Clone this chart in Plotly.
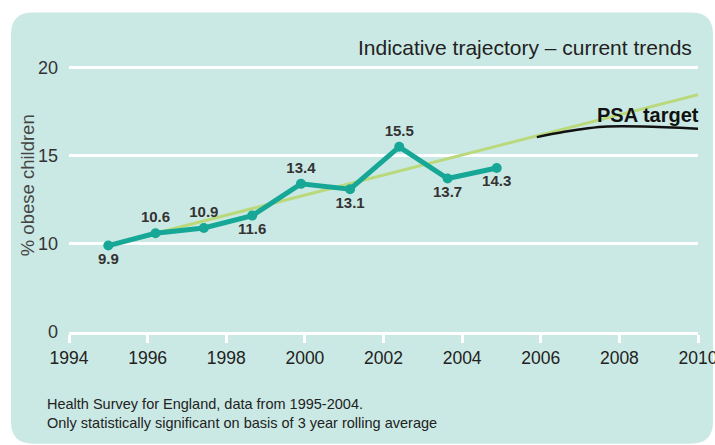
import plotly.graph_objects as go

# Survey years (plotted positions) and obesity rates
survey_x = [1995.0, 1996.2, 1997.43, 1998.66, 1999.9, 2001.15, 2002.4, 2003.63, 2004.88]
obese_pct = [9.9, 10.6, 10.9, 11.6, 13.4, 13.1, 15.5, 13.7, 14.3]
label_pos = ["bottom center", "top center", "top center", "bottom center", "top center",
             "bottom center", "top center", "bottom center", "bottom center"]

# Indicative trajectory on current trends
trend_x = [1996.2, 2010.0]
trend_y = [10.6, 18.45]

# PSA target path
psa_x = [2005.9, 2006.6, 2007.2, 2007.7, 2008.6, 2010.0]
psa_y = [16.05, 16.35, 16.55, 16.65, 16.65, 16.53]

# Axis ticks (bottom gridline is labelled 0)
y_tickvals = [5, 10, 15, 20]
y_ticktext = ["0", "10", "15", "20"]
x_tickvals = list(range(1994, 2011, 2))

W, H = 715, 445
ML, MR, MB = 69, 17, 113
Y0, Y1 = 5, 21.5
px_per_unit = (332 - 67) / 15
plot_h = (Y1 - Y0) * px_per_unit
MT = H - MB - plot_h
plot_w = W - ML - MR


def px(xp, yp):
    return (xp - ML) / plot_w, (H - MB - yp) / plot_h


BG = "#cbe9e4"
TEAL = "#17a797"
GREEN = "#b9d97c"
FONT = "Liberation Sans, Arial, sans-serif"

fig = go.Figure()

fig.add_trace(go.Scatter(
    x=trend_x, y=trend_y, mode="lines",
    line=dict(color=GREEN, width=3), hoverinfo="skip"))

fig.add_trace(go.Scatter(
    x=psa_x, y=psa_y, mode="lines",
    line=dict(color="#111111", width=2.5, shape="spline"), hoverinfo="skip"))

fig.add_trace(go.Scatter(
    x=survey_x, y=obese_pct, mode="lines+markers+text",
    line=dict(color=TEAL, width=5),
    marker=dict(color=TEAL, size=10),
    text=[f"{v:.1f}" for v in obese_pct],
    textposition=label_pos,
    textfont=dict(family=FONT, size=15, color="#333333", weight="bold"),
    cliponaxis=False))

# Rounded panel behind the chart
x0, y0 = px(11, 12)
x1, y1 = px(713, 444)
rx = 22 / plot_w
ry = 22 / plot_h
path = (f"M {x0+rx},{y0} L {x1-rx},{y0} Q {x1},{y0} {x1},{y0-ry} "
        f"L {x1},{y1+ry} Q {x1},{y1} {x1-rx},{y1} "
        f"L {x0+rx},{y1} Q {x0},{y1} {x0},{y1+ry} "
        f"L {x0},{y0-ry} Q {x0},{y0} {x0+rx},{y0} Z")
fig.add_shape(type="path", path=path, xref="paper", yref="paper",
              fillcolor=BG, line=dict(width=0), layer="below")

annotations = []
tx, ty = px(694, 47)
annotations.append(dict(x=tx, y=ty, xref="paper", yref="paper", xanchor="right", yanchor="middle",
                        text="Indicative trajectory \u2013 current trends", showarrow=False,
                        font=dict(family=FONT, size=21, color="#222222")))
tx, ty = px(701, 115)
annotations.append(dict(x=tx, y=ty, xref="paper", yref="paper", xanchor="right", yanchor="middle",
                        text="<b>PSA target</b>", showarrow=False,
                        font=dict(family=FONT, size=20, color="#111111")))
tx, ty = px(27, 185)
annotations.append(dict(x=tx, y=ty, xref="paper", yref="paper", xanchor="center", yanchor="middle",
                        text="% obese children", textangle=-90, showarrow=False,
                        font=dict(family=FONT, size=18.5, color="#444444")))
tx, ty = px(45, 414)
annotations.append(dict(x=tx, y=ty, xref="paper", yref="paper", xanchor="left", yanchor="middle",
                        align="left", showarrow=False,
                        text="Health Survey for England, data from 1995-2004.<br>"
                             "Only statistically significant on basis of 3 year rolling average",
                        font=dict(family=FONT, size=14.5, color="#222222")))

fig.update_layout(
    width=W, height=H,
    margin=dict(l=ML, r=MR, t=MT, b=MB, pad=0, autoexpand=False),
    paper_bgcolor="white",
    plot_bgcolor="rgba(0,0,0,0)",
    showlegend=False,
    annotations=annotations,
    xaxis=dict(range=[1994, 2010], tickvals=x_tickvals, showgrid=False, zeroline=False,
               showline=True, linecolor="white", linewidth=2.5,
               ticks="outside", tickcolor="white", tickwidth=2.5, ticklen=8,
               ticklabeloverflow="allow", automargin=False,
               tickfont=dict(family=FONT, size=17.5, color="#222222")),
    yaxis=dict(range=[Y0, Y1], tickvals=y_tickvals, ticktext=y_ticktext,
               showgrid=True, gridcolor="white", gridwidth=2.5, zeroline=False,
               showline=False, ticks="", ticklabelstandoff=10, automargin=False,
               tickfont=dict(family=FONT, size=18, color="#333333")),
)

fig.write_html("out.html")
